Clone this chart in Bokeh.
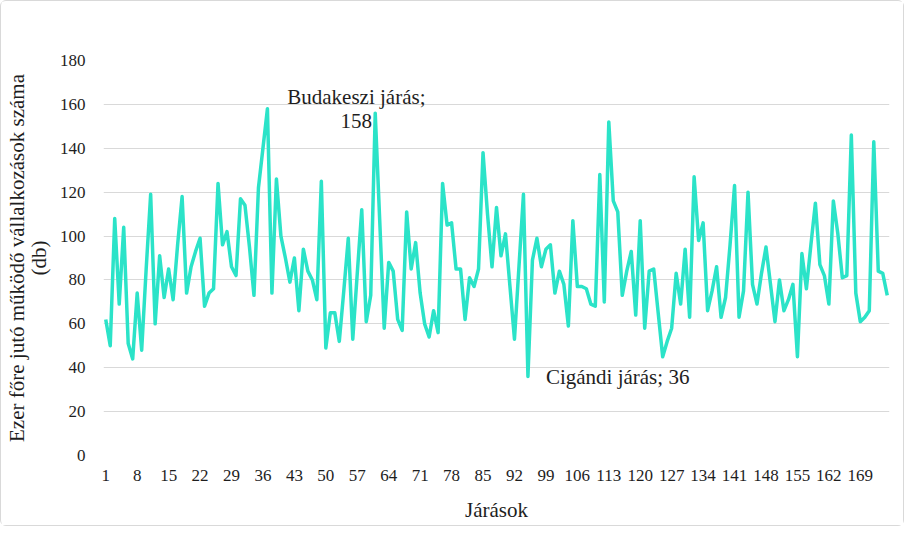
from bokeh.plotting import figure
from bokeh.models import FixedTicker, Label, Range1d
from bokeh.embed import file_html
from bokeh.resources import INLINE

# Ezer főre jutó működő vállalkozások száma járásonként (db)
values = [
    62, 50, 108, 69, 104, 51, 44, 74, 48, 85,
    119, 60, 91, 72, 85, 71, 96, 118, 74, 86,
    93, 99, 68, 74, 76, 124, 96, 102, 86, 82,
    117, 114, 95, 73, 122, 140, 158, 74, 126, 100,
    90, 79, 90, 66, 94, 84, 80, 71, 125, 49,
    65, 65, 52, 75, 99, 53, 83, 112, 61, 73,
    156, 107, 58, 88, 84, 62, 57, 111, 85, 97,
    74, 60, 54, 66, 56, 124, 105, 106, 85, 85,
    62, 81, 77, 85, 138, 110, 86, 113, 91, 101,
    77, 53, 86, 119, 36, 89, 99, 86, 94, 96,
    74, 84, 78, 59, 107, 77, 77, 76, 69, 68,
    128, 70, 152, 116, 111, 73, 84, 93, 64, 107,
    58, 84, 85, 65, 45, 52, 58, 83, 69, 94,
    63, 127, 98, 106, 66, 75, 86, 63, 72, 96,
    123, 63, 75, 120, 78, 69, 83, 95, 78, 61,
    80, 66, 71, 78, 45, 92, 76, 96, 115, 87,
    82, 69, 116, 101, 81, 82, 146, 74, 61, 63,
    66, 143, 84, 83, 73,
]
districts = list(range(1, len(values) + 1))

x_ticks = [1, 8, 15, 22, 29, 36, 43, 50, 57, 64, 71, 78, 85, 92, 99,
           106, 113, 120, 127, 134, 141, 148, 155, 162, 169]
y_ticks = [0, 20, 40, 60, 80, 100, 120, 140, 160, 180]

annot_names = ["Budakeszi járás", "Cigándi járás"]
annot_index = [37, 95]

FONT = "Liberation Serif"
TEXT = "#1e1e1e"

p = figure(width=904, height=526, output_backend="svg", toolbar_location=None,
           x_range=Range1d(0.5, len(values) + 0.5), y_range=Range1d(0, 180),
           min_border_left=102, min_border_right=16, min_border_top=59,
           min_border_bottom=72)
p.styles = {"border": "1px solid #d9d9d9", "border-radius": "6px"}
p.outline_line_color = None

p.line(districts, values, line_color="#2BE3C8", line_width=3.5, line_join="round")

p.xgrid.visible = False
p.ygrid.ticker = FixedTicker(ticks=y_ticks)
p.ygrid.grid_line_color = "#d9d9d9"
p.ygrid.grid_line_width = 1

for ax in (p.xaxis[0], p.yaxis[0]):
    ax.axis_line_color = None
    ax.major_tick_line_color = None
    ax.minor_tick_line_color = None
    ax.major_tick_in = 0
    ax.major_tick_out = 0
    ax.major_label_text_font = FONT
    ax.major_label_text_color = TEXT
    ax.axis_label_text_font = FONT
    ax.axis_label_text_color = TEXT
    ax.axis_label_text_font_style = "normal"
    ax.axis_label_text_font_size = "21px"
    ax.major_label_text_font_size = "17px"

p.xaxis.ticker = FixedTicker(ticks=x_ticks)
p.xaxis.major_label_standoff = 14
p.xaxis.axis_label = "Járások"
p.xaxis.axis_label_standoff = 14

p.yaxis.ticker = FixedTicker(ticks=y_ticks)
p.yaxis.major_label_standoff = 18
p.yaxis.axis_label = "Ezer főre jutó működő vállalkozások száma\n(db)"
p.yaxis.axis_label_standoff = 6
p.yaxis.axis_label_text_line_height = 0.9

i0 = annot_index[0] - 1
p.add_layout(Label(x=56.8, y=163.5, text=f"{annot_names[0]};",
                   text_align="center", text_baseline="middle",
                   text_font=FONT, text_font_size="21px", text_color=TEXT))
p.add_layout(Label(x=56.8, y=152.5, text=f"{values[i0]}",
                   text_align="center", text_baseline="middle",
                   text_font=FONT, text_font_size="21px", text_color=TEXT))
i1 = annot_index[1] - 1
p.add_layout(Label(x=annot_index[1] + 4, y=values[i1], text=f"{annot_names[1]}; {values[i1]}",
                   text_align="left", text_baseline="middle",
                   text_font=FONT, text_font_size="21px", text_color=TEXT))

open("out.html", "w").write(file_html(p, INLINE))
